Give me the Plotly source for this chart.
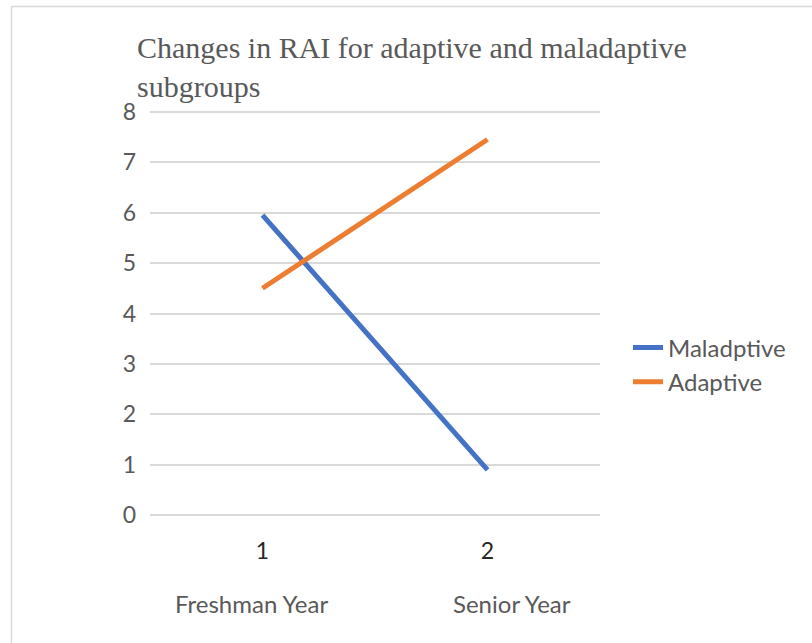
import plotly.graph_objects as go

x_vals = [1, 2]
tick_labels = ["1", "2"]
categories = ["Freshman Year", "Senior Year"]
maladaptive = [5.95, 0.9]
adaptive = [4.5, 7.45]
title_text = "Changes in RAI for adaptive and maladaptive<br>subgroups"

L, R, T, B = 150, 212, 110, 126
W, H = 812, 643
pw, ph = W - L - R, H - T - B
SANS = "Lato, Liberation Sans"

def px_x(p):
    return (p - L) / pw

def px_y(p):
    return (H - B - p) / ph

fig = go.Figure()
fig.add_trace(go.Scatter(x=x_vals, y=maladaptive, mode="lines", name="Maladptive",
                         line=dict(color="#4472C4", width=5)))
fig.add_trace(go.Scatter(x=x_vals, y=adaptive, mode="lines", name="Adaptive",
                         line=dict(color="#ED7D31", width=5)))

for xv, cat, shift in zip(x_vals, categories, [-11, 24]):
    fig.add_annotation(x=xv, xref="x", y=px_y(603), yref="paper", text=cat,
                       showarrow=False, yanchor="middle", xshift=shift,
                       font=dict(family=SANS, size=24, color="#595959"))

# frame lines
fig.add_shape(type="line", xref="paper", yref="paper", x0=px_x(11.5), x1=px_x(830),
              y0=px_y(6.5), y1=px_y(6.5), line=dict(color="#d9d9d9", width=1.5))
fig.add_shape(type="line", xref="paper", yref="paper", x0=px_x(11.5), x1=px_x(11.5),
              y0=px_y(6.5), y1=px_y(660), line=dict(color="#d9d9d9", width=1.5))

fig.update_layout(
    width=W, height=H,
    margin=dict(l=L, r=R, t=T, b=B),
    paper_bgcolor="white", plot_bgcolor="white",
    title=dict(text=title_text, x=137 / W, xanchor="left", xref="container",
               y=1 - 58 / H, yanchor="top", yref="container",
               font=dict(family="Liberation Serif, Times New Roman", size=30, color="#595959")),
    xaxis=dict(range=[0.5, 2.5], tickvals=x_vals, ticktext=tick_labels,
               showgrid=False, zeroline=False, showline=False, ticks="",
               ticklabelstandoff=18,
               tickfont=dict(family=SANS, size=23, color="#262626")),
    yaxis=dict(range=[-0.035, 8.035], dtick=1, showgrid=True, gridcolor="#d9d9d9", gridwidth=1.5,
               zeroline=False, showline=False, ticks="", ticklabelstandoff=13,
               tickfont=dict(family=SANS, size=23, color="#595959")),
    legend=dict(x=px_x(628), xanchor="left", y=px_y(365), yanchor="middle",
                font=dict(family=SANS, size=24, color="#595959"),
                itemwidth=30, tracegroupgap=0, bgcolor="rgba(0,0,0,0)"),
    showlegend=True,
)

fig.write_html("out.html")
